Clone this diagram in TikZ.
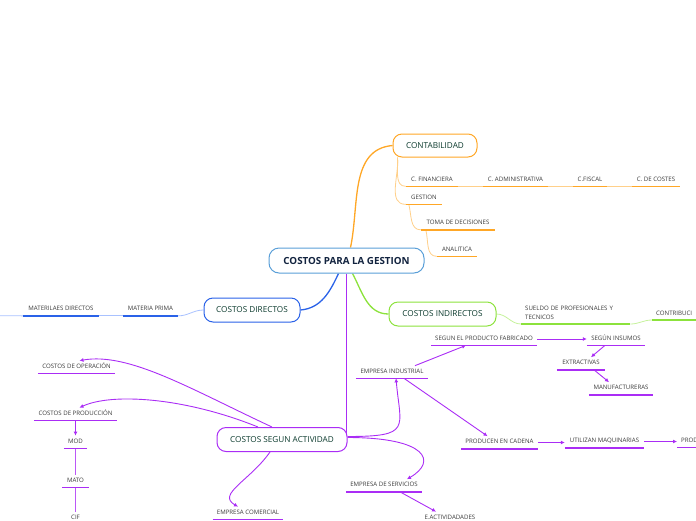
\documentclass[tikz,border=0pt]{standalone}
\usepackage{fontspec}
\setmainfont{Open Sans}
\usetikzlibrary{arrows.meta,backgrounds}

\definecolor{naranja}{HTML}{FFA726}
\definecolor{naranjaclaro}{HTML}{FFD08A}
\definecolor{azul}{HTML}{2A62E8}
\definecolor{azulclaro}{HTML}{A9C2FF}
\definecolor{verde}{HTML}{8CE23C}
\definecolor{verdeclaro}{HTML}{C6F29C}
\definecolor{morado}{HTML}{AA2DF5}
\definecolor{celeste}{HTML}{5A9FD8}
\definecolor{verdeosc}{HTML}{0C3B2E}
\definecolor{marino}{HTML}{12233F}
\definecolor{gristxt}{HTML}{3A3A3A}

\tikzset{
  rama/.style={draw=#1, line width=1pt, rounded corners=9pt, fill=white,
    minimum height=24pt, text=verdeosc, font=\fontsize{8.2}{10}\selectfont},
  item/.style={text=gristxt, font=\fontsize{6.1}{9}\selectfont,
    inner xsep=4pt, inner ysep=3.2pt, text height=4.4pt, text depth=1.5pt,
    append after command={(\tikzlastnode.south west)
      edge[draw=#1, line width=1.7pt] (\tikzlastnode.south east)}},
  flecha/.style={morado, line width=0.9pt, -{Latex[length=4pt,width=4pt]}},
}

\begin{document}
\begin{tikzpicture}[x=1pt,y=1pt]

\useasboundingbox (0,-520) rectangle (696,0);

% Nodo central
\node[draw=celeste, line width=1pt, rounded corners=10pt, fill=white,
  minimum width=155pt, minimum height=25pt, text=marino,
  font=\bfseries\fontsize{9.8}{12}\selectfont]
  (cpg) at (346.5,-260.5) {COSTOS PARA LA GESTION};

% Contabilidad
\node[rama=naranja, minimum width=84pt, minimum height=23pt]
  (cont) at (435,-145.5) {CONTABILIDAD};
\node[item=naranja, minimum width=52pt] (fin) at (432,-180) {C. FINANCIERA};
\node[item=naranja, minimum width=65pt] (adm) at (515.5,-180) {C. ADMINISTRATIVA};
\node[item=naranja, minimum width=34pt] (fisc) at (590,-180) {C.FISCAL};
\node[item=naranja, minimum width=48pt] (cost) at (656,-180) {C. DE COSTES};
\node[item=naranja, minimum width=36pt] (gst) at (424,-198) {GESTION};
\node[item=naranja, minimum width=74pt] (toma) at (458,-223.5) {TOMA DE DECISIONES};
\node[item=naranja, minimum width=40pt] (anal) at (457,-250) {ANALITICA};

% Costos directos
\node[rama=azul, minimum width=96pt] (cd) at (252,-310) {COSTOS DIRECTOS};
\node[item=azul, minimum width=55pt] (mp) at (150.5,-309.5) {MATERIA PRIMA};
\node[item=azul, minimum width=76pt] (md) at (61,-309.5) {MATERILAES DIRECTOS};
\coordinate (bordeizq) at (0,-315.75);

% Costos indirectos
\node[rama=verde, minimum width=107pt] (ci) at (442.5,-314) {COSTOS INDIRECTOS};
\node[item=verde, text width=101pt, align=left, text depth=10.5pt, anchor=south west]
  (sueldo) at (521,-324) {SUELDO DE PROFESIONALES Y\\TECNICOS};
\node[item=verde, text width=52pt, align=left, anchor=south west]
  (contrib) at (652,-320) {CONTRIBUCI};

% Costos segun actividad
\node[rama=morado, minimum width=130pt] (csa) at (282,-439.5) {COSTOS SEGUN ACTIVIDAD};
\node[item=morado, minimum width=77pt] (op) at (76.5,-367) {COSTOS DE OPERACIÓN};
\node[item=morado, minimum width=83pt] (prodc) at (75.5,-414) {COSTOS DE PRODUCCIÓN};
\node[item=morado, minimum width=23pt] (mod) at (75.5,-442) {MOD};
\node[item=morado, minimum width=26pt] (mato) at (75.5,-481) {MATO};
\node[item=morado, minimum width=26pt] (cif) at (75.5,-518) {CIF};
\node[item=morado, minimum width=70pt] (ecom) at (248,-513) {EMPRESA COMERCIAL};
\node[item=morado, minimum width=72pt] (ei) at (392,-372) {EMPRESA INDUSTRIAL};
\node[item=morado, minimum width=106pt] (spf) at (484,-339) {SEGUN EL PRODUCTO FABRICADO};
\node[item=morado, minimum width=58pt] (si) at (616,-339) {SEGÚN INSUMOS};
\node[item=morado, minimum width=48pt] (ext) at (581,-363.5) {EXTRACTIVAS};
\node[item=morado, minimum width=64pt] (man) at (621,-388.5) {MANUFACTURERAS};
\node[item=morado, minimum width=77pt] (pec) at (499.5,-442.5) {PRODUCEN EN CADENA};
\node[item=morado, minimum width=79pt] (um) at (604.5,-441.5) {UTILIZAN MAQUINARIAS};
\node[item=morado, text width=40pt, align=left, anchor=south west]
  (prodq) at (677,-447.5) {PROD};
\node[item=morado, minimum width=76pt] (es) at (384,-485.5) {EMPRESA DE SERVICIOS};
\node[item=morado, minimum width=60pt] (eact) at (450,-518) {E.ACTIVIDADADES};

\begin{scope}[on background layer]

% ramas principales
\draw[naranja, line width=1.3pt]
  ([xshift=4pt]cpg.north) to[out=78,in=185] (cont.west);
\draw[azul, line width=1.3pt]
  ([xshift=-8pt]cpg.south) to[out=-115,in=5] (cd.east);
\draw[verde, line width=1.3pt]
  ([xshift=6pt]cpg.south) to[out=-62,in=180] (ci.west);
\draw[morado, line width=1.6pt]
  (cpg.south) -- (cpg.south |- csa.east);

% contabilidad
\draw[naranjaclaro, line width=0.8pt]
  ([xshift=5pt]cont.south west) to[out=-85,in=180] (fin.south west);
\draw[naranjaclaro, line width=0.8pt]
  ([xshift=5pt]cont.south west) to[out=-85,in=180] (gst.south west);
\draw[naranjaclaro, line width=0.8pt]
  ([xshift=3pt]gst.south west) to[out=-75,in=180] (toma.south west);
\draw[naranjaclaro, line width=0.8pt]
  ([xshift=5pt]toma.south west) to[out=-75,in=180] (anal.south west);
\draw[naranjaclaro, line width=0.8pt] (fin.south east) -- (adm.south west);
\draw[naranjaclaro, line width=0.8pt] (adm.south east) -- (fisc.south west);
\draw[naranjaclaro, line width=0.8pt] (fisc.south east) -- (cost.south west);

% directos
\draw[azulclaro, line width=0.8pt] (cd.west) to[out=180,in=0] (mp.south east);
\draw[azulclaro, line width=0.8pt] (mp.south west) -- (md.south east);
\draw[azulclaro, line width=0.8pt] (md.south west) -- (bordeizq);

% indirectos
\draw[verdeclaro, line width=0.8pt] (ci.east) to[out=0,in=180] (sueldo.south west);
\draw[verdeclaro, line width=0.8pt] (sueldo.south east) to[out=0,in=180] (contrib.south west);

% segun actividad
\draw[flecha] ([xshift=-10pt]csa.north)
  .. controls +(155:90) and +(10:50) .. ([xshift=3pt]op.north);
\draw[flecha] ([xshift=-24pt]csa.north)
  .. controls +(158:80) and +(25:35) .. ([xshift=4pt]prodc.north);
\draw[flecha] ([xshift=-12pt]csa.south)
  .. controls +(-125:35) and +(150:25) .. ([xshift=-10pt]ecom.north);
\draw[flecha] ([yshift=3pt]csa.east)
  .. controls +(0:65) and +(-85:50) .. ([xshift=4pt]ei.south);
\draw[flecha] ([yshift=2pt]csa.east)
  .. controls +(0:80) and +(30:35) .. ([xshift=23pt]es.north);
\draw[flecha] (prodc.south) -- (mod.north);
\draw[morado!80, line width=0.6pt] (mod.south) -- (mato.north);
\draw[morado!80, line width=0.6pt] (mato.south) -- (cif.north);
\draw[flecha] ([xshift=23pt]ei.north) -- ([xshift=-18pt]spf.south);
\draw[flecha] (spf.east) -- (si.west |- spf.east);
\draw[flecha] ([xshift=-11pt]si.south) -- ([xshift=10pt]ext.north);
\draw[flecha] ([xshift=13pt]ext.south) -- ([xshift=-12pt]man.north);
\draw[flecha] ([xshift=12pt]ei.south) -- ([xshift=-12pt]pec.north);
\draw[flecha] (pec.east) -- (um.west |- pec.east);
\draw[flecha] (um.east) -- (prodq.west |- um.east);
\draw[flecha] ([xshift=16pt]es.south) -- ([xshift=-14pt]eact.north);

\end{scope}

\end{tikzpicture}
\end{document}
